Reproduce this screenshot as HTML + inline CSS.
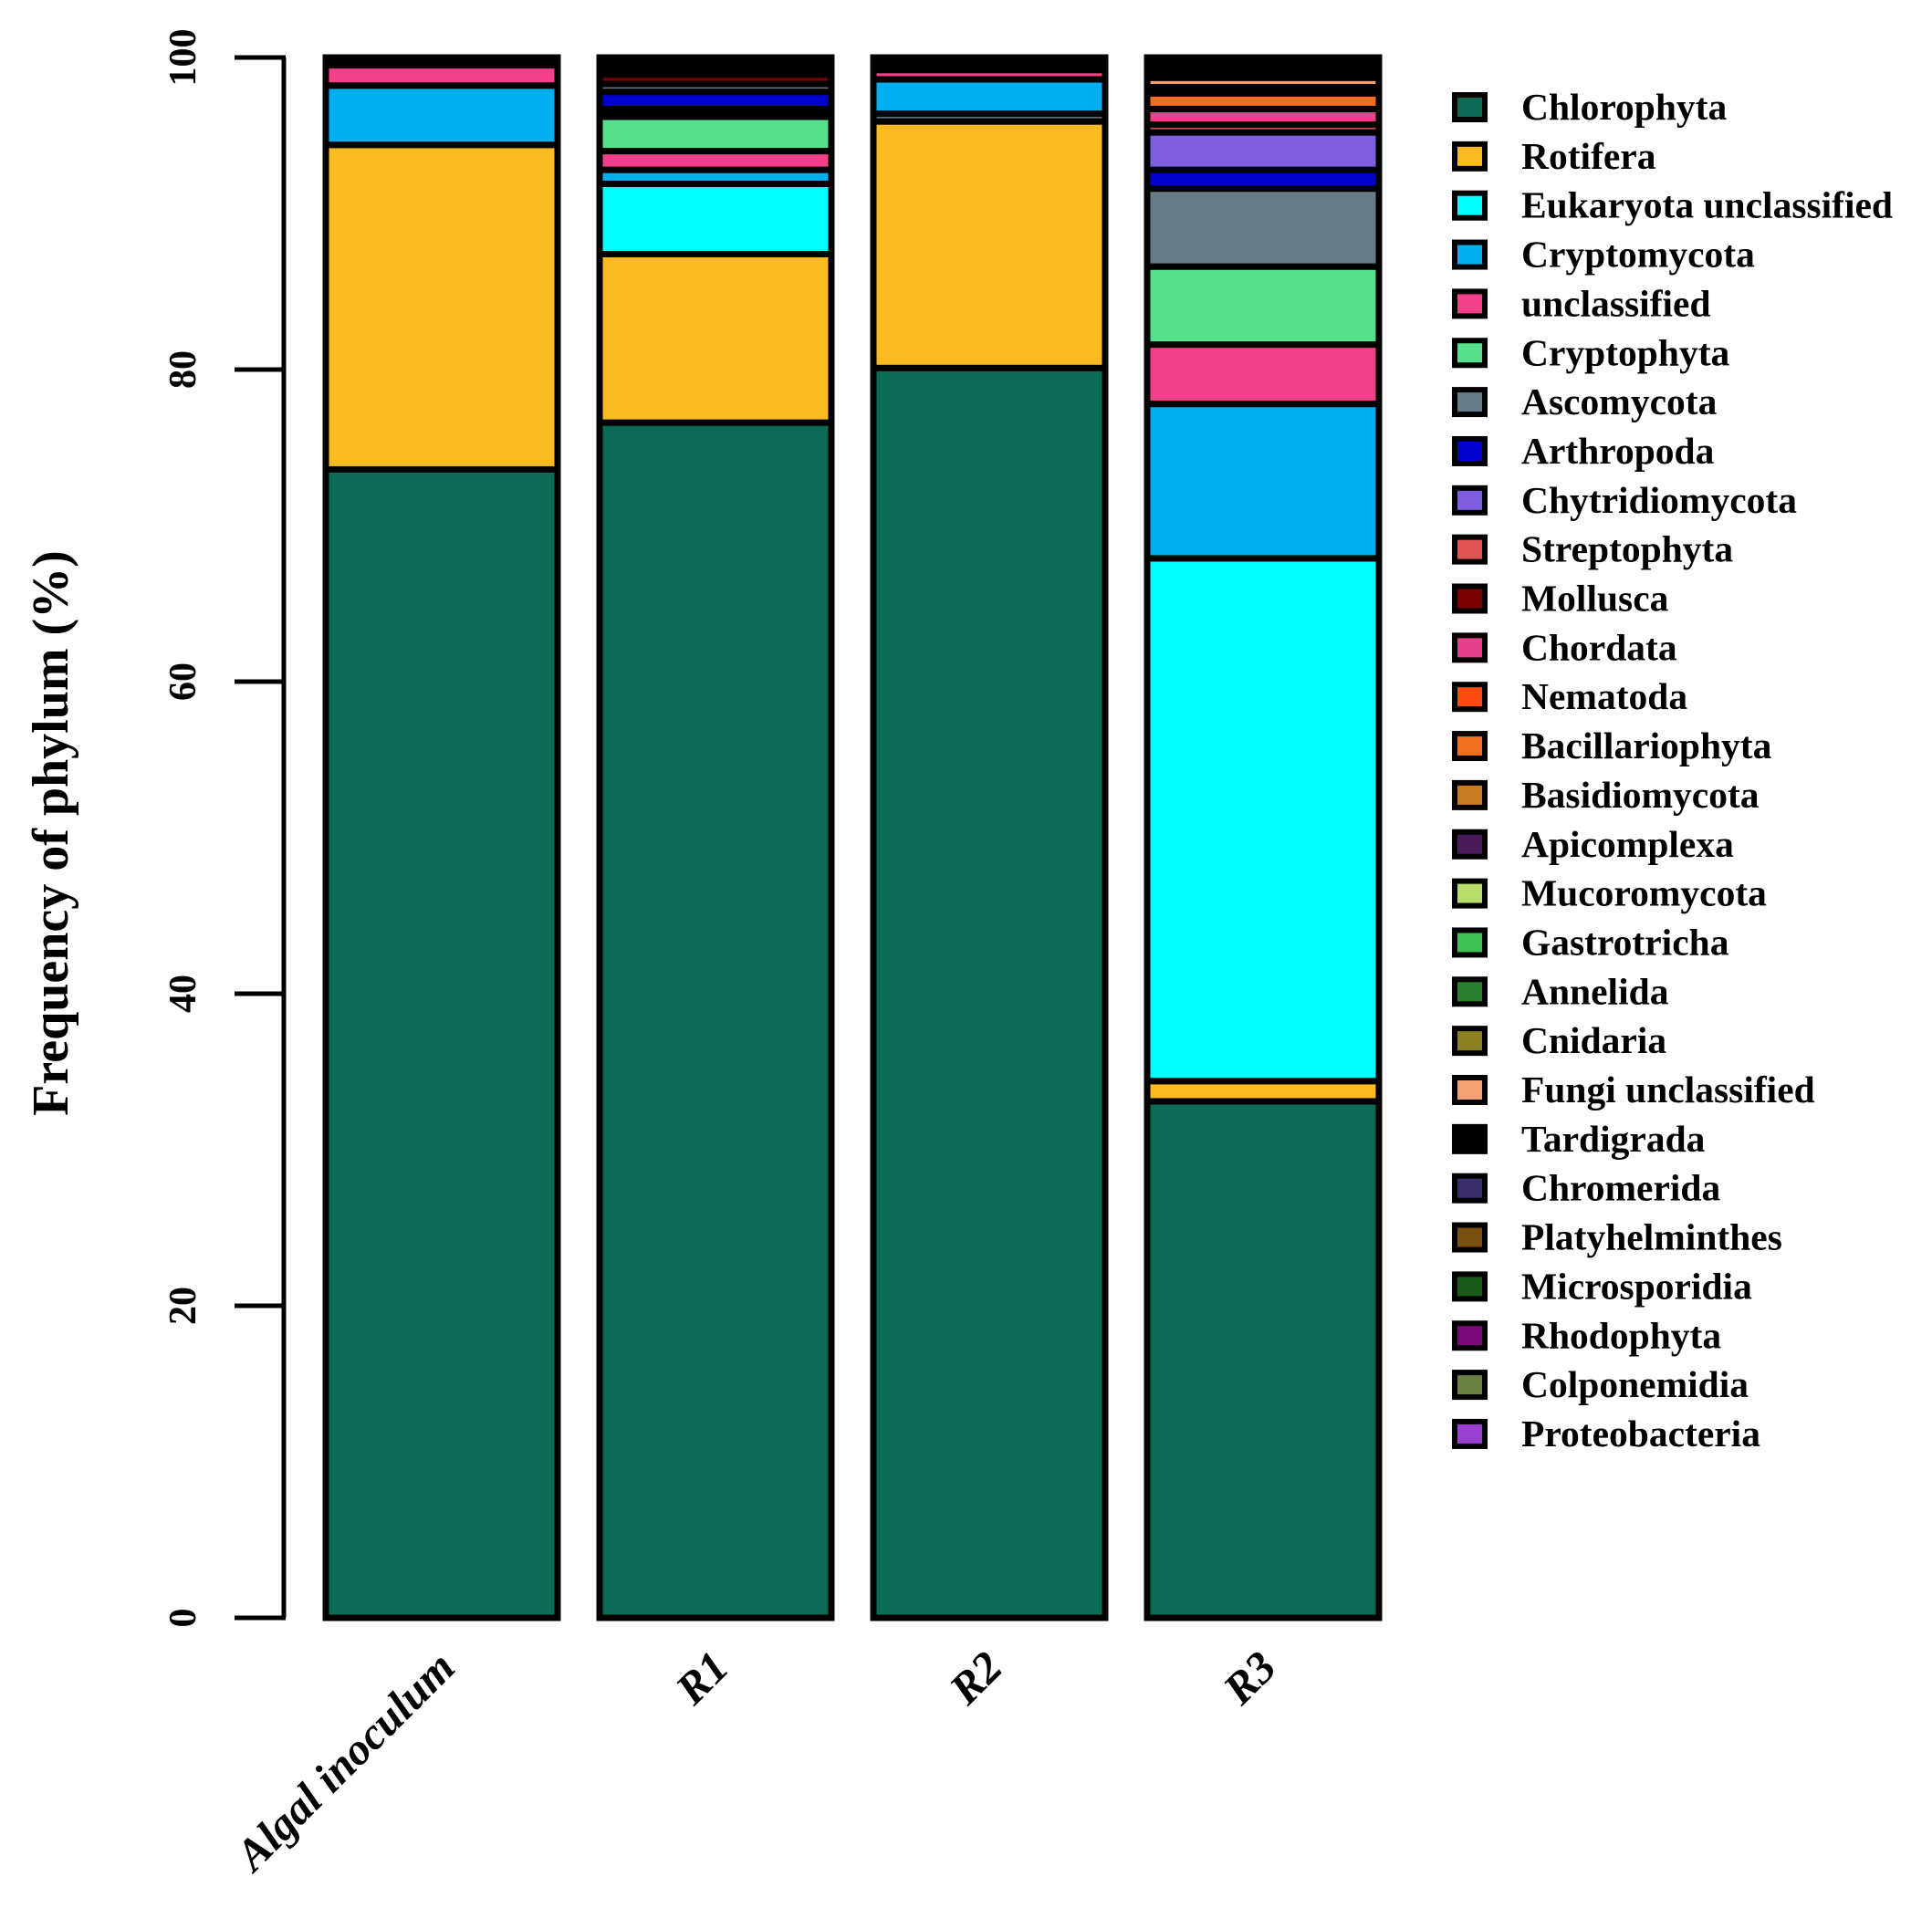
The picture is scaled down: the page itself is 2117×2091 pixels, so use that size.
<!DOCTYPE html>
<html><head><meta charset="utf-8"><style>
html,body{margin:0;padding:0;background:#fff;}
svg{display:block;}
text{font-family:"Liberation Serif",serif;font-weight:bold;fill:#000;}
</style></head><body>
<svg id="chart" width="2117" height="2091" viewBox="0 0 2117 2091" xmlns="http://www.w3.org/2000/svg"></svg>
<script>
const samples = ["Algal inoculum", "R1", "R2", "R3"];
const phyla = ["Chlorophyta","Rotifera","Eukaryota unclassified","Cryptomycota","unclassified","Cryptophyta","Ascomycota","Arthropoda","Chytridiomycota","Streptophyta","Mollusca","Chordata","Nematoda","Bacillariophyta","Basidiomycota","Apicomplexa","Mucoromycota","Gastrotricha","Annelida","Cnidaria","Fungi unclassified","Tardigrada","Chromerida","Platyhelminthes","Microsporidia","Rhodophyta","Colponemidia","Proteobacteria"];
const phylumColors = ["#0b6b55","#f9bb1f","#00ffff","#03aeef","#f43f8b","#57e08c","#677b86","#0000cc","#7f5de0","#e05555","#7a0000","#e8408a","#ff4a10","#f07020","#c87a20","#4a1a5a","#b8dd6a","#40c050","#2a8030","#8a8020","#f4a070","#000000","#3a2f6a","#7a5010","#1a5a1a","#7a0a7a","#6a8040","#9a40d0"];
// stacked segments bottom-up: phylum names and values (%)
const algalPhyla = ["Chlorophyta","Rotifera","Cryptomycota","unclassified","Tardigrada"];
const algalValues = [73.6, 20.8, 3.8, 1.3, 0.5];
const r1Phyla = ["Chlorophyta","Rotifera","Eukaryota unclassified","Cryptomycota","unclassified","Cryptophyta","Tardigrada","Arthropoda","Ascomycota","Mollusca","Tardigrada"];
const r1Values = [76.6, 10.8, 4.5, 0.9, 1.2, 2.2, 0.5, 1.1, 0.5, 0.6, 1.1];
const r2Phyla = ["Chlorophyta","Rotifera","Ascomycota","Cryptomycota","unclassified","Tardigrada"];
const r2Values = [80.1, 15.8, 0.5, 2.2, 0.6, 0.8];
const r3Phyla = ["Chlorophyta","Rotifera","Eukaryota unclassified","Cryptomycota","unclassified","Cryptophyta","Ascomycota","Arthropoda","Chytridiomycota","Streptophyta","Chordata","Bacillariophyta","Tardigrada","Fungi unclassified","Tardigrada"];
const r3Values = [33.1, 1.3, 33.5, 9.9, 3.8, 5.0, 5.0, 1.2, 2.4, 0.5, 1.0, 1.0, 0.4, 0.6, 1.3];
const yTicks = [0, 20, 40, 60, 80, 100];

const NS = "http://www.w3.org/2000/svg";
const svg = document.getElementById("chart");
const Y0 = 1773, Y100 = 63;
function yScale(v){ return Y0 + (Y100 - Y0) * v / 100; }
const barLeft0 = 357, barStep = 300, barW = 254;
function xScale(i){ return barLeft0 + i * barStep; }
function mk(tag, attrs){ const e = document.createElementNS(NS, tag); for (const k in attrs) e.setAttribute(k, attrs[k]); svg.appendChild(e); return e; }
function colorOf(p){ return phylumColors[phyla.indexOf(p)]; }

const bars = [[algalPhyla, algalValues],[r1Phyla, r1Values],[r2Phyla, r2Values],[r3Phyla, r3Values]];
bars.forEach((b, i) => {
  let cum = 0;
  const x = xScale(i);
  const bg = mk("rect", {x: x, y: yScale(100), width: barW, height: yScale(0) - yScale(100), fill: "#000"});
  
  
  b[0].forEach((p, j) => {
    const v = b[1][j];
    const yTop = yScale(cum + v), yBot = yScale(cum);
    const r = mk("rect", {x: x, y: yTop, width: barW, height: yBot - yTop, fill: colorOf(p), stroke: "#000", "stroke-width": 7});
    
    
    cum += v;
  });
  const ax_ = x + barW / 2 + 17;
  const lbl = mk("text", {x: ax_, y: 1830, "font-size": 49, "font-style": "italic", "text-anchor": "end", transform: "rotate(-45 " + ax_ + " 1830)"});
  lbl.textContent = samples[i];
  
  
});

// y axis
const ax = mk("line", {x1: 311, y1: yScale(0), x2: 311, y2: yScale(100), stroke: "#000", "stroke-width": 5});


yTicks.forEach(t => {
  const y = yScale(t);
  const tk = mk("line", {x1: 257, y1: y, x2: 313, y2: y, stroke: "#000", "stroke-width": 5});
  
  
  const tl = mk("text", {x: 214, y: y, "font-size": 42, "text-anchor": "middle", transform: "rotate(-90 214 " + y + ")"});
  tl.textContent = t;
  
  
});
const yt = mk("text", {x: 74, y: 913, "font-size": 56, "text-anchor": "middle", transform: "rotate(-90 74 913)"});
yt.textContent = "Frequency of phylum (%)";



// legend
phyla.forEach((p, i) => {
  const cy = 117 + i * 53.85;
  const box = mk("rect", {x: 1594, y: cy - 13, width: 33, height: 27, fill: phylumColors[i], stroke: "#000", "stroke-width": 6});
  
  
  const lt = mk("text", {x: 1667, y: cy + 14, "font-size": 41.5});
  lt.textContent = p;
  
  
});
</script>
</body></html>
